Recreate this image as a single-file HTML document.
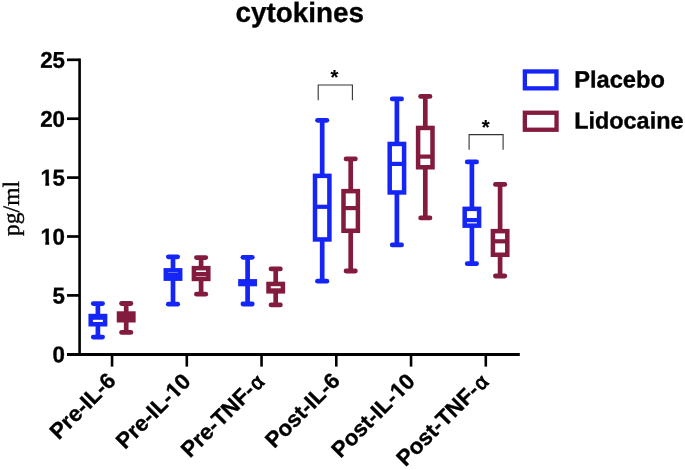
<!DOCTYPE html>
<html><head><meta charset="utf-8"><title>cytokines</title>
<style>
html,body{margin:0;padding:0;background:#fff;}
svg{display:block;will-change:transform}
text{font-family:"Liberation Sans",sans-serif;fill:#000;stroke:#000;stroke-width:0.35px;text-rendering:geometricPrecision}
</style></head>
<body>
<svg width="685" height="470" viewBox="0 0 685 470">

<text transform="translate(299.75,21.9) rotate(0.03)" text-anchor="middle" font-size="27.85" font-weight="bold">cytokines</text>
<text transform="translate(18.6,235.9) rotate(-90)" font-size="23.5" style="font-family:'Liberation Serif',serif">pg/ml</text>
<defs><clipPath id="one" clipPathUnits="userSpaceOnUse"><rect x="-25.50" y="-22" width="16" height="18.1"/><rect x="-19.68" y="-5" width="3.85" height="6"/></clipPath><clipPath id="one2" clipPathUnits="userSpaceOnUse"><rect x="-25.39" y="-22" width="16" height="18.1"/><rect x="-19.59" y="-5" width="3.85" height="6"/></clipPath></defs>
<line x1="79.6" y1="58.6" x2="79.6" y2="355.9" stroke="#000" stroke-width="2.6"/>
<line x1="67" y1="354.4" x2="519.8" y2="354.4" stroke="#000" stroke-width="3.0"/>
<line x1="67" y1="295.40" x2="79.5" y2="295.40" stroke="#000" stroke-width="2.7"/>
<line x1="67" y1="236.50" x2="79.5" y2="236.50" stroke="#000" stroke-width="2.7"/>
<line x1="67" y1="177.60" x2="79.5" y2="177.60" stroke="#000" stroke-width="2.7"/>
<line x1="67" y1="118.70" x2="79.5" y2="118.70" stroke="#000" stroke-width="2.7"/>
<line x1="67" y1="59.80" x2="79.5" y2="59.80" stroke="#000" stroke-width="2.7"/>
<g transform="translate(65,362.30) scale(1,1.02) rotate(0.03)"><text x="0" y="0" text-anchor="end" font-size="22.3" font-weight="bold">0</text></g>
<g transform="translate(65,303.40) scale(1,1.02) rotate(0.03)"><text x="0" y="0" text-anchor="end" font-size="22.3" font-weight="bold">5</text></g>
<g transform="translate(65,244.50) scale(1,1.02) rotate(0.03)"><text x="-24.50" y="0" font-size="22.3" font-weight="bold" clip-path="url(#one)">1</text><text x="0" y="0" text-anchor="end" font-size="22.3" font-weight="bold">0</text></g>
<g transform="translate(65,185.60) scale(1,1.02) rotate(0.03)"><text x="-24.50" y="0" font-size="22.3" font-weight="bold" clip-path="url(#one)">1</text><text x="0" y="0" text-anchor="end" font-size="22.3" font-weight="bold">5</text></g>
<g transform="translate(65,126.70) scale(1,1.02) rotate(0.03)"><text x="0" y="0" text-anchor="end" font-size="22.3" font-weight="bold">20</text></g>
<g transform="translate(65,67.80) scale(1,1.02) rotate(0.03)"><text x="0" y="0" text-anchor="end" font-size="22.3" font-weight="bold">25</text></g>
<line x1="112.05" y1="354.4" x2="112.05" y2="366.6" stroke="#000" stroke-width="2.6"/>
<text transform="translate(117.05,382.00) rotate(-45) scale(1,1.0)" text-anchor="end" font-size="22.2" font-weight="bold">Pre-IL-6</text>
<line x1="186.80" y1="354.4" x2="186.80" y2="366.6" stroke="#000" stroke-width="2.6"/>
<g transform="translate(192.10,382.80) rotate(-45) scale(1,1.0)"><text x="-24.69" y="0" text-anchor="end" font-size="22.2" font-weight="bold">Pre-IL-</text><text x="-24.39" y="0" font-size="22.2" font-weight="bold" clip-path="url(#one2)">1</text><text x="0" y="0" text-anchor="end" font-size="22.2" font-weight="bold">0</text></g>
<line x1="261.55" y1="354.4" x2="261.55" y2="366.6" stroke="#000" stroke-width="2.6"/>
<text transform="translate(265.55,383.00) rotate(-45) scale(1,1.0)" text-anchor="end" font-size="22.2" font-weight="bold">Pre-TNF-<tspan font-weight="normal" font-size="20" dx="1.6" style="stroke-width:1.0px">α</tspan></text>
<line x1="336.30" y1="354.4" x2="336.30" y2="366.6" stroke="#000" stroke-width="2.6"/>
<text transform="translate(341.30,382.00) rotate(-45) scale(1,1.0)" text-anchor="end" font-size="22.2" font-weight="bold">Post-IL-6</text>
<line x1="411.05" y1="354.4" x2="411.05" y2="366.6" stroke="#000" stroke-width="2.6"/>
<g transform="translate(416.35,382.80) rotate(-45) scale(1,1.0)"><text x="-24.69" y="0" text-anchor="end" font-size="22.2" font-weight="bold">Post-IL-</text><text x="-24.39" y="0" font-size="22.2" font-weight="bold" clip-path="url(#one2)">1</text><text x="0" y="0" text-anchor="end" font-size="22.2" font-weight="bold">0</text></g>
<line x1="485.80" y1="354.4" x2="485.80" y2="366.6" stroke="#000" stroke-width="2.6"/>
<text transform="translate(489.80,383.00) rotate(-45) scale(1,1.0)" text-anchor="end" font-size="22.2" font-weight="bold">Post-TNF-<tspan font-weight="normal" font-size="20" dx="1.6" style="stroke-width:1.0px">α</tspan></text>
<g stroke="#1425f5" fill="none"><line x1="97.9" y1="303.6" x2="97.9" y2="316.05" stroke-width="4.7"/><line x1="97.9" y1="324.25" x2="97.9" y2="337.1" stroke-width="4.7"/><line x1="93.25" y1="303.6" x2="102.55" y2="303.6" stroke-width="4.8" stroke-linecap="round"/><line x1="93.25" y1="337.1" x2="102.55" y2="337.1" stroke-width="4.8" stroke-linecap="round"/><rect x="90.70" y="316.05" width="14.40" height="8.20" stroke-width="4.5" fill="#fff"/><line x1="90.70" y1="317.7" x2="105.10" y2="317.7" stroke-width="4.2"/></g>
<g stroke="#821b3e" fill="none"><line x1="126.2" y1="303.5" x2="126.2" y2="313.55" stroke-width="4.7"/><line x1="126.2" y1="320.25" x2="126.2" y2="332.4" stroke-width="4.7"/><line x1="121.55" y1="303.5" x2="130.85" y2="303.5" stroke-width="4.8" stroke-linecap="round"/><line x1="121.55" y1="332.4" x2="130.85" y2="332.4" stroke-width="4.8" stroke-linecap="round"/><rect x="119.00" y="313.55" width="14.40" height="6.70" stroke-width="4.5" fill="#fff"/><line x1="119.00" y1="317.0" x2="133.40" y2="317.0" stroke-width="4.2"/></g>
<g stroke="#1425f5" fill="none"><line x1="173.0" y1="256.8" x2="173.0" y2="270.35" stroke-width="4.7"/><line x1="173.0" y1="278.65" x2="173.0" y2="304.2" stroke-width="4.7"/><line x1="168.35" y1="256.8" x2="177.65" y2="256.8" stroke-width="4.8" stroke-linecap="round"/><line x1="168.35" y1="304.2" x2="177.65" y2="304.2" stroke-width="4.8" stroke-linecap="round"/><rect x="165.80" y="270.35" width="14.40" height="8.30" stroke-width="4.5" fill="#fff"/><line x1="165.80" y1="275.0" x2="180.20" y2="275.0" stroke-width="4.2"/></g>
<g stroke="#821b3e" fill="none"><line x1="201.1" y1="257.6" x2="201.1" y2="268.15" stroke-width="4.7"/><line x1="201.1" y1="278.95" x2="201.1" y2="294.2" stroke-width="4.7"/><line x1="196.45" y1="257.6" x2="205.75" y2="257.6" stroke-width="4.8" stroke-linecap="round"/><line x1="196.45" y1="294.2" x2="205.75" y2="294.2" stroke-width="4.8" stroke-linecap="round"/><rect x="193.90" y="268.15" width="14.40" height="10.80" stroke-width="4.5" fill="#fff"/><line x1="193.90" y1="274.1" x2="208.30" y2="274.1" stroke-width="4.2"/></g>
<g stroke="#1425f5" fill="none"><line x1="247.6" y1="257.3" x2="247.6" y2="281.35" stroke-width="4.7"/><line x1="247.6" y1="284.05" x2="247.6" y2="304.0" stroke-width="4.7"/><line x1="242.95" y1="257.3" x2="252.25" y2="257.3" stroke-width="4.8" stroke-linecap="round"/><line x1="242.95" y1="304.0" x2="252.25" y2="304.0" stroke-width="4.8" stroke-linecap="round"/><rect x="240.40" y="281.35" width="14.40" height="2.70" stroke-width="4.5" fill="#fff"/><line x1="240.40" y1="282.7" x2="254.80" y2="282.7" stroke-width="4.2"/></g>
<g stroke="#821b3e" fill="none"><line x1="275.7" y1="268.9" x2="275.7" y2="283.95" stroke-width="4.7"/><line x1="275.7" y1="291.35" x2="275.7" y2="304.9" stroke-width="4.7"/><line x1="271.05" y1="268.9" x2="280.35" y2="268.9" stroke-width="4.8" stroke-linecap="round"/><line x1="271.05" y1="304.9" x2="280.35" y2="304.9" stroke-width="4.8" stroke-linecap="round"/><rect x="268.50" y="283.95" width="14.40" height="7.40" stroke-width="4.5" fill="#fff"/><line x1="268.50" y1="290.4" x2="282.90" y2="290.4" stroke-width="4.2"/></g>
<g stroke="#1425f5" fill="none"><line x1="322.2" y1="120.3" x2="322.2" y2="175.85" stroke-width="4.7"/><line x1="322.2" y1="239.45" x2="322.2" y2="281.2" stroke-width="4.7"/><line x1="317.55" y1="120.3" x2="326.85" y2="120.3" stroke-width="4.8" stroke-linecap="round"/><line x1="317.55" y1="281.2" x2="326.85" y2="281.2" stroke-width="4.8" stroke-linecap="round"/><rect x="315.00" y="175.85" width="14.40" height="63.60" stroke-width="4.5" fill="#fff"/><line x1="315.00" y1="206.8" x2="329.40" y2="206.8" stroke-width="4.2"/></g>
<g stroke="#821b3e" fill="none"><line x1="350.7" y1="158.9" x2="350.7" y2="191.15" stroke-width="4.7"/><line x1="350.7" y1="230.75" x2="350.7" y2="271.0" stroke-width="4.7"/><line x1="346.05" y1="158.9" x2="355.35" y2="158.9" stroke-width="4.8" stroke-linecap="round"/><line x1="346.05" y1="271.0" x2="355.35" y2="271.0" stroke-width="4.8" stroke-linecap="round"/><rect x="343.50" y="191.15" width="14.40" height="39.60" stroke-width="4.5" fill="#fff"/><line x1="343.50" y1="208.1" x2="357.90" y2="208.1" stroke-width="4.2"/></g>
<g stroke="#1425f5" fill="none"><line x1="396.9" y1="98.9" x2="396.9" y2="143.95" stroke-width="4.7"/><line x1="396.9" y1="192.45" x2="396.9" y2="244.9" stroke-width="4.7"/><line x1="392.25" y1="98.9" x2="401.55" y2="98.9" stroke-width="4.8" stroke-linecap="round"/><line x1="392.25" y1="244.9" x2="401.55" y2="244.9" stroke-width="4.8" stroke-linecap="round"/><rect x="389.70" y="143.95" width="14.40" height="48.50" stroke-width="4.5" fill="#fff"/><line x1="389.70" y1="163.9" x2="404.10" y2="163.9" stroke-width="4.2"/></g>
<g stroke="#821b3e" fill="none"><line x1="425.3" y1="96.4" x2="425.3" y2="127.95" stroke-width="4.7"/><line x1="425.3" y1="167.25" x2="425.3" y2="217.9" stroke-width="4.7"/><line x1="420.65" y1="96.4" x2="429.95" y2="96.4" stroke-width="4.8" stroke-linecap="round"/><line x1="420.65" y1="217.9" x2="429.95" y2="217.9" stroke-width="4.8" stroke-linecap="round"/><rect x="418.10" y="127.95" width="14.40" height="39.30" stroke-width="4.5" fill="#fff"/><line x1="418.10" y1="156.6" x2="432.50" y2="156.6" stroke-width="4.2"/></g>
<g stroke="#1425f5" fill="none"><line x1="471.9" y1="161.9" x2="471.9" y2="208.85" stroke-width="4.7"/><line x1="471.9" y1="225.65" x2="471.9" y2="263.7" stroke-width="4.7"/><line x1="467.25" y1="161.9" x2="476.55" y2="161.9" stroke-width="4.8" stroke-linecap="round"/><line x1="467.25" y1="263.7" x2="476.55" y2="263.7" stroke-width="4.8" stroke-linecap="round"/><rect x="464.70" y="208.85" width="14.40" height="16.80" stroke-width="4.5" fill="#fff"/><line x1="464.70" y1="220.1" x2="479.10" y2="220.1" stroke-width="4.2"/></g>
<g stroke="#821b3e" fill="none"><line x1="500.1" y1="184.4" x2="500.1" y2="231.15" stroke-width="4.7"/><line x1="500.1" y1="254.75" x2="500.1" y2="276.0" stroke-width="4.7"/><line x1="495.45" y1="184.4" x2="504.75" y2="184.4" stroke-width="4.8" stroke-linecap="round"/><line x1="495.45" y1="276.0" x2="504.75" y2="276.0" stroke-width="4.8" stroke-linecap="round"/><rect x="492.90" y="231.15" width="14.40" height="23.60" stroke-width="4.5" fill="#fff"/><line x1="492.90" y1="241.3" x2="507.30" y2="241.3" stroke-width="4.2"/></g>
<g stroke="#333" stroke-width="1.1" fill="none">
<path d="M318.2 100.2 V85 H352.4 V100.2"/>
<path d="M469.1 149.8 V134.6 H503.1 V149.8"/>
</g>
<text x="334.4" y="84.2" text-anchor="middle" font-size="20.3" font-weight="bold" style="stroke-width:0.15px">*</text>
<text x="485.7" y="133.5" text-anchor="middle" font-size="20.3" font-weight="bold" style="stroke-width:0.15px">*</text>
<rect x="524.85" y="71.45" width="31.6" height="16.9" fill="#fff" stroke="#1425f5" stroke-width="4.3"/>
<rect x="524.85" y="112.75" width="31.7" height="17.0" fill="#fff" stroke="#821b3e" stroke-width="4.3"/>
<text transform="translate(574.2,87.5) rotate(0.03)" font-size="23.65" font-weight="bold">Placebo</text>
<text transform="translate(574.2,128.5) rotate(0.03)" font-size="23.42" font-weight="bold">Lidocaine</text>
</svg>
</body></html>
